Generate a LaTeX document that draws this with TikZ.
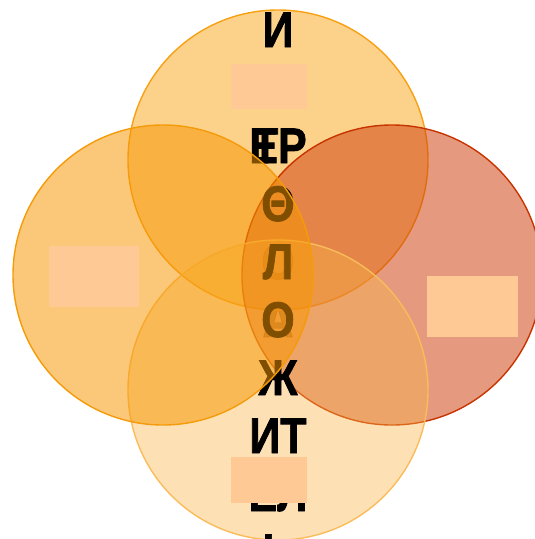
\documentclass[tikz,border=0pt]{standalone}
\usepackage{fontspec}
\setmainfont{Liberation Sans}
\newfontfamily\heavyfont[FakeBold=1.6]{Liberation Sans Bold}
\definecolor{topF}{RGB}{249,165,21}
\definecolor{topD}{RGB}{247,160,20}
\definecolor{rightF}{RGB}{206,61,11}
\definecolor{rightD}{RGB}{200,52,0}
\definecolor{botF}{RGB}{250,180,70}
\definecolor{botD}{RGB}{250,188,90}
\definecolor{leftF}{RGB}{247,150,0}
\definecolor{leftD}{RGB}{245,155,10}
\definecolor{boxF}{RGB}{255,201,149}
\newcommand\nrw[1]{\scalebox{0.86}[1]{#1}}
\tikzset{
  bubble/.style={circle, inner sep=0pt, outer sep=0pt, minimum size=300pt, line width=1.4pt},
  txt/.style={font=\heavyfont\fontsize{50}{58}\selectfont, inner sep=0pt, anchor=base, text=black},
  ghost/.style={txt, text opacity=0.55},
  pad/.style={fill=boxF, draw=none, inner sep=0pt, outer sep=0pt, anchor=north west}
}
\begin{document}
\begin{tikzpicture}[x=1pt,y=-1pt]
\useasboundingbox (0,0) rectangle (535,539);
% faint text behind all bubbles
\node[ghost] (g5) at (278,279) {\nrw{О}};
\node[ghost] (g6) at (278,337) {\nrw{А}};
% bubbles
\node[bubble, fill=topF, fill opacity=0.5, draw=topD] (top) at (278,160) {};
\node[bubble, fill=rightF, fill opacity=0.52, draw=rightD] (right) at (392,275) {};
\node[bubble, fill=botF, fill opacity=0.4, draw=botD] (bottom) at (278,390) {};
% text column
\node[txt] (t1) at (278,47) {\nrw{И}};
\node[txt] (t2) at (278,105) {\nrw{НТ}};
\node[txt] (t3) at (278,163) {\nrw{ЕР}};
\node[txt] (t3b) at (265,163) {\nrw{Т}};
\node[txt] (t4) at (278,221) {\nrw{Θ}};
\node[txt] (t5) at (278,279) {\nrw{Л}};
\node[txt] (t6) at (278,337) {\nrw{О}};
\node[txt] (t7) at (278,395) {\nrw{Ж}};
\node[txt] (t8) at (278,453) {\nrw{ИТ}};
\node[txt] (t9) at (278,511) {\nrw{ЕЛ}};
\node[txt] (t10) at (278,569) {\nrw{Ь}};
% left bubble on top of text
\node[bubble, fill=leftF, fill opacity=0.52, draw=leftD] (left) at (163,275) {};
% pale boxes
\node[pad, minimum width=76pt, minimum height=45pt] (boxT) at (231,64) {};
\node[pad, minimum width=90pt, minimum height=61pt] (boxL) at (49,246) {};
\node[pad, minimum width=91pt, minimum height=61pt] (boxR) at (427,276) {};
\node[pad, minimum width=76pt, minimum height=46pt] (boxB) at (231,457) {};
\end{tikzpicture}
\end{document}
